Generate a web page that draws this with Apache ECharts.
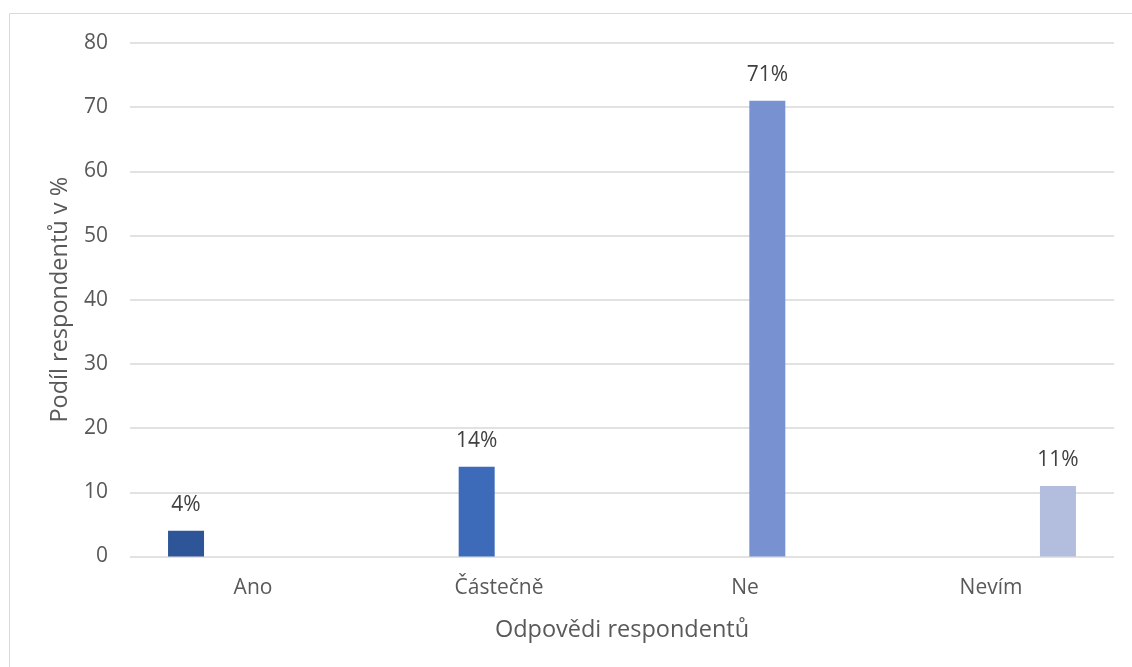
<!DOCTYPE html>
<html><head><meta charset="utf-8">
<script src="https://cdn.jsdelivr.net/npm/echarts@6/dist/echarts.min.js"></script>
<style>html,body{margin:0;padding:0;background:#fff}#c{width:1132px;height:667px}</style>
</head><body><div id="c"></div>
<script>
const categories = ['Ano', 'Částečně', 'Ne', 'Nevím'];
const seriesAno = [4, null, null, null];
const seriesCastecne = [null, 14, null, null];
const seriesNe = [null, null, 71, null];
const seriesNevim = [null, null, null, 11];
const yTicks = [0, 10, 20, 30, 40, 50, 60, 70, 80];
const colors = ['#2E5597', '#3D6AB9', '#7891D0', '#B3BEDF'];

const font = '"Open Sans", "Noto Sans", sans-serif';
const chart = echarts.init(document.getElementById('c'));
const mk = (name, data, color) => ({
  name, type: 'bar', data, barWidth: 36, barGap: '24%',
  itemStyle: { color },
  label: { show: true, position: 'top', distance: 15, formatter: p => p.value + '%',
    color: '#404040', fontSize: 21, fontFamily: font }
});
chart.setOption({
  animation: false,
  graphic: [{ type: 'rect', shape: { x: 9.5, y: 13.5, width: 1200, height: 700 },
    style: { fill: 'none', stroke: '#d9d9d9', lineWidth: 1 }, silent: true }],
  grid: { left: 130, right: 18, top: 43, bottom: 110.5, containLabel: false },
  xAxis: {
    type: 'category', data: categories,
    axisLine: { show: false }, axisTick: { show: false },
    axisLabel: { color: '#595959', fontSize: 21, fontFamily: font, margin: 21 },
    name: 'Odpovědi respondentů', nameLocation: 'middle', nameGap: 62,
    nameTextStyle: { color: '#595959', fontSize: 23.5, fontFamily: font }
  },
  yAxis: {
    type: 'value', min: yTicks[0], max: yTicks[yTicks.length - 1], interval: 10,
    axisLine: { show: false }, axisTick: { show: false },
    axisLabel: { color: '#595959', fontSize: 21, fontFamily: font, margin: 22 },
    splitLine: { lineStyle: { color: '#d9d9d9', width: 1.5 } },
    name: 'Podíl respondentů v %', nameLocation: 'middle', nameGap: 58,
    nameTextStyle: { color: '#595959', fontSize: 23.5, fontFamily: font }
  },
  series: [
    mk('Ano', seriesAno, colors[0]),
    mk('Částečně', seriesCastecne, colors[1]),
    mk('Ne', seriesNe, colors[2]),
    mk('Nevím', seriesNevim, colors[3])
  ]
});
</script></body></html>
